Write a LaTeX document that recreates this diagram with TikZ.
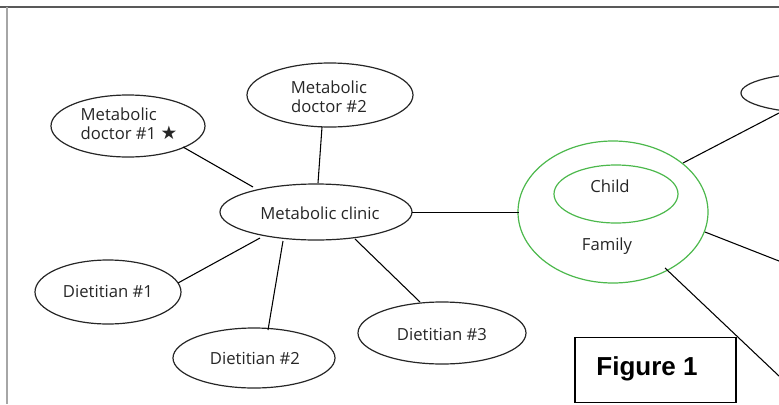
\documentclass[tikz,border=0pt]{standalone}
\usepackage{fontspec}
\setmainfont{Open Sans}
\newfontfamily\symfont{DejaVu Sans}
\newfontfamily\figfont{Liberation Sans}
\usetikzlibrary{shapes.geometric}
\begin{document}
\begin{tikzpicture}[x=0.75pt,y=-0.75pt,
  bubble/.style={draw=black!85,line width=0.9pt},
  txt/.style={font=\fontsize{12.5}{14.3}\selectfont,text=black!85,align=center,inner sep=0pt},
  link/.style={draw=black,line width=0.8pt},
  ring/.style={draw=green!60!black!70!white,line width=0.9pt}]
\useasboundingbox (0,0) rectangle (779,404);
\draw[black!65,line width=1.5pt] (0,7) -- (779,7);
\draw[black!35,line width=1.5pt] (7,7) -- (7,404);
% ellipses
\draw[bubble] (128,126) ellipse [x radius=77,y radius=31];
\node[txt,align=left] (d1) at (129,124) {Metabolic\\doctor \#1 {\symfont\fontsize{14}{14}\selectfont ★}};
\coordinate (d1e) at (183,147);
\draw[bubble] (330,95) ellipse [x radius=83,y radius=32];
\node[txt] (d2) at (329,97) {Metabolic\\doctor \#2};
\coordinate (d2e) at (322,127);
\draw[bubble] (316,212) ellipse [x radius=96,y radius=28];
\node[txt] (mc) at (320,213) {Metabolic clinic};
\draw[bubble] (108,292) ellipse [x radius=73,y radius=32];
\node[txt] (t1) at (108,291) {Dietitian \#1};
\draw[bubble] (254,358) ellipse [x radius=81,y radius=30];
\node[txt] (t2) at (255,358) {Dietitian \#2};
\draw[bubble] (442,333) ellipse [x radius=84,y radius=31];
\node[txt] (t3) at (442,334) {Dietitian \#3};
\draw[bubble] (820,93) ellipse [x radius=79,y radius=20];
% family
\draw[ring] (613,212) ellipse [x radius=95,y radius=71];
\draw[ring] (616,194) ellipse [x radius=62,y radius=29];
\node[txt] (ch) at (610,186) {Child};
\node[txt] (fa) at (607,246) {Family};
% connector end points
\coordinate (mcl1) at (253,187);
\coordinate (mcl2) at (318,183);
\coordinate (mcr) at (412,212);
\coordinate (fal) at (519,212);
\coordinate (mcb1) at (260,238);
\coordinate (t1e) at (178,283);
\coordinate (mcb2) at (283,241);
\coordinate (t2e) at (268,330);
\coordinate (mcb3) at (355,239);
\coordinate (t3e) at (420,302);
\coordinate (fa1) at (683,163);
\coordinate (o1) at (779,113);
\coordinate (fa2) at (705,232);
\coordinate (o2) at (779,261);
\coordinate (fa3) at (665,268);
\coordinate (o3) at (779,376);
\draw[link] (d1e) -- (mcl1);
\draw[link] (d2e) -- (mcl2);
\draw[link,line width=0.7pt] (mcr) -- (fal);
\draw[link] (mcb1) -- (t1e);
\draw[link] (mcb2) -- (t2e);
\draw[link] (mcb3) -- (t3e);
\draw[link] (fa1) -- (o1);
\draw[link] (fa2) -- (o2);
\draw[link] (fa3) -- (o3);
% figure label
\node[draw=black,line width=1.2pt,fill=white,inner sep=0pt,
  minimum width=120.75pt,minimum height=49pt] (figbox) at (655.5,370) {};
\node[font=\figfont\bfseries\fontsize{19.5}{22}\selectfont,inner sep=0pt] (fig) at (647,369) {Figure 1};
\end{tikzpicture}
\end{document}
